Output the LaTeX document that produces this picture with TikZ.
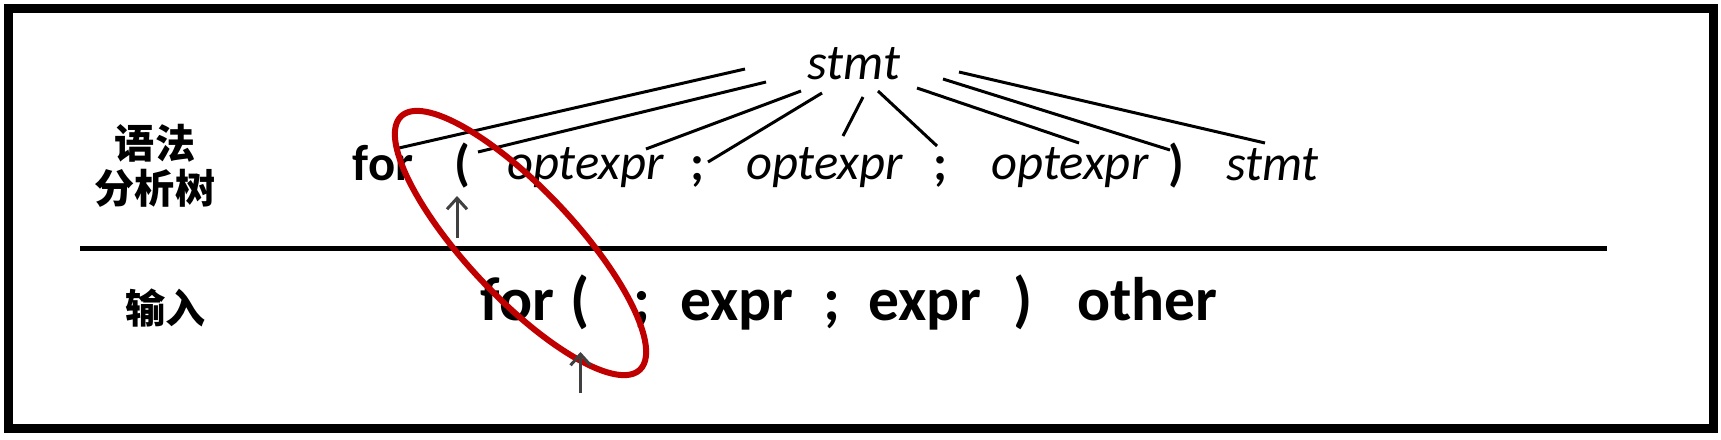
\documentclass[tikz,border=0pt]{standalone}
\usepackage{fontspec}
\setmainfont{Carlito}
\newfontfamily\cjk{Noto Sans CJK SC}
\usetikzlibrary{arrows.meta}
\definecolor{ringred}{RGB}{192,0,0}
\definecolor{ptrgray}{RGB}{64,64,64}

\begin{document}
\begin{tikzpicture}[x=0.01cm,y=-0.01cm,
    tree/.style={font=\fontsize{14.4}{16}\selectfont\itshape,inner sep=0pt,anchor=base},
    treekw/.style={font=\fontsize{14.4}{16}\selectfont\bfseries,inner sep=0pt,anchor=base},
    inkw/.style={font=\fontsize{17.5}{20}\selectfont\bfseries,inner sep=0pt,anchor=base},
    sidelbl/.style={font=\fontsize{11.4}{12.7}\selectfont\cjk\bfseries,align=center,inner sep=0pt},
    branch/.style={line width=0.03cm},
    ptr/.style={draw=ptrgray,line width=0.03cm,-{Straight Barb[length=0.11cm,width=0.2cm]}}]
  \useasboundingbox (0,0) rectangle (1721,439);
  \draw[line width=0.09cm] (8.5,8.5) rectangle (1713,428.5);
  \draw[line width=0.05cm] (80,248.5) -- (1607,248.5);

  % left-hand labels
  \node[sidelbl] (parselbl) at (155,166) {语法\\分析树};
  \node[sidelbl] (inputlbl) at (165.5,308.5) {输入};

  % parse tree: root and its children
  \node[tree] (root) at (854,79) {stmt};
  \node[treekw] (kwfor) at (383,180) {for};
  \node[treekw] (lpar) at (462,180) {(};
  \node[tree] (opt1) at (585.5,179) {optexpr};
  \node[treekw] (semi1) at (697,180) {;};
  \node[tree] (opt2) at (824.5,179) {optexpr};
  \node[treekw] (semi2) at (940,180) {;};
  \node[tree] (opt3) at (1070,179) {optexpr};
  \node[treekw] (rpar) at (1176.5,180) {)};
  \node[tree] (body) at (1272.5,180) {stmt};
  \foreach \child/\sx/\sy/\ex/\ey in {kwfor/-109/-10/16/-32, lpar/-88/3/16/-28,
      opt1/-53/12/60.5/-30, semi1/-32/14/11/-18, opt2/9/18/18.5/-43,
      semi2/24/12/-3/-34, opt3/63/9/9/-36, rpar/89/0/-6.5/-30, body/105/-7/-7.5/-37}
    \draw[branch] ([shift={(\sx,\sy)}]root.base) -- ([shift={(\ex,\ey)}]\child.base);

  % input tokens
  \node[inkw] (infor) at (517.5,320) {for};
  \node[inkw] (inlpar) at (580.5,320) {(};
  \node[inkw] (insemi1) at (642,320) {;};
  \node[inkw] (inexpr1) at (737,320) {expr};
  \node[inkw] (insemi2) at (832,320) {;};
  \node[inkw] (inexpr2) at (925,320) {expr};
  \node[inkw] (inrpar) at (1023,320) {)};
  \node[inkw] (inother) at (1147.5,320) {other};

  % the mismatch ring, then both look-ahead pointers
  \draw[ringred,line width=0.06cm,rotate around={-46.75:(520.5,243)}]
    (520.5,243) ellipse [x radius=1.74cm,y radius=0.54cm];
  \draw[ptr] (lpar.base) ++(-5,58) -- ++(0,-42);
  \draw[ptr] (inlpar.base) ++(0,73) -- ++(0,-41);
\end{tikzpicture}
\end{document}
